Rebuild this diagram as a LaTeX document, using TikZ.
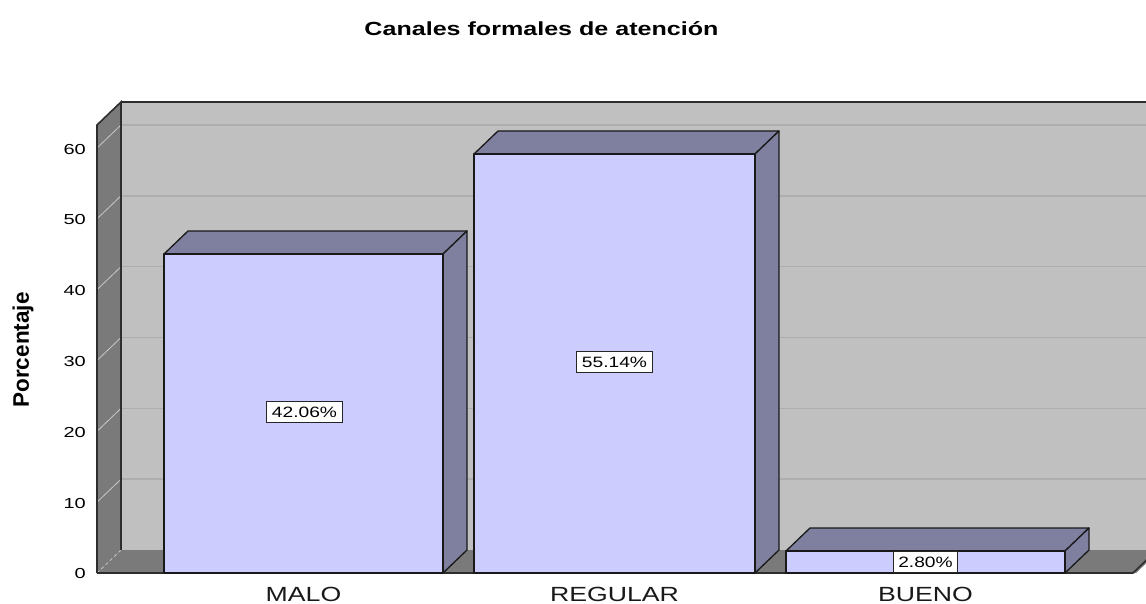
\documentclass[tikz,border=0pt]{standalone}
\usepackage{fontspec}
\usepackage{graphicx}
\setmainfont{Liberation Sans}
\definecolor{wallc}{RGB}{192,192,192}
\definecolor{sidec}{RGB}{122,122,122}
\definecolor{gridc}{RGB}{174,174,174}
\definecolor{diagc}{RGB}{200,200,200}
\definecolor{barfrontc}{RGB}{204,204,255}
\definecolor{barsidec}{RGB}{127,127,160}
\definecolor{edgec}{RGB}{45,45,45}
\newcommand\hs[2]{\scalebox{#1}[1]{#2}}
\tikzset{
  backwall/.style={fill=wallc},
  sidewall/.style={fill=sidec},
  gridline/.style={draw=gridc, line width=1.6pt},
  diagline/.style={draw=diagc, line width=0.8pt},
  walledge/.style={draw=edgec, line width=1.6pt},
  barfront/.style={fill=barfrontc, draw=black!90, line width=1.3pt, line join=round},
  barside/.style={fill=barsidec, draw=black!90, line width=1.3pt, line join=round},
  ticklabel/.style={anchor=east, inner sep=0pt, font=\fontsize{14.5}{16}\selectfont, text=black},
  catlabel/.style={inner sep=0pt, font=\fontsize{20.5}{22}\selectfont, text=black!90},
  valbox/.style={fill=white, draw=black!85, line width=1pt, inner xsep=5pt, inner ysep=0pt, minimum height=21pt, font=\fontsize{15}{16}\selectfont, text=black},
  titlelabel/.style={inner sep=0pt, font=\bfseries\fontsize{19}{21}\selectfont},
  axislabel/.style={inner sep=0pt, rotate=90, font=\bfseries\fontsize{22.5}{24}\selectfont}
}
\begin{document}
\begin{tikzpicture}[x=1pt,y=-1pt]
\useasboundingbox (0,0) rectangle (1146,604);
\begin{scope}
\clip (0,0) rectangle (1146,604);
% back wall
\fill[backwall] (121,102) rectangle (1160,550);
% gridlines
\foreach \v in {10,20,30,40,50,60}{
  \draw[gridline] (121,{550-\v*7.083}) -- (1160,{550-\v*7.083});
}
% side wall
\fill[sidewall] (97,125) -- (121,102) -- (121,550) -- (97,573) -- cycle;
\foreach \v in {10,20,30,40,50,60}{
  \draw[diagline] (97,{573-\v*7.083}) -- (121,{550-\v*7.083});
}
% floor
\fill[sidewall] (97,573) -- (121,550) -- (1160,550) -- (1136,573) -- cycle;
\draw[diagline, dashed] (97,573) -- (121,550);
% edges
\draw[walledge] (121,102) -- (1160,102);
\draw[walledge] (97,573) -- (97,125) -- (121,102) -- (121,550);
\draw[walledge] (97,573) -- (1133,573) -- (1157,550);
\end{scope}
% bars
% MALO
\draw[barside] (164,254) -- (188,231) -- (467,231) -- (443,254) -- cycle;
\draw[barside] (443,254) -- (467,231) -- (467,550) -- (443,573) -- cycle;
\draw[barfront] (164,254) rectangle (443,573);
% REGULAR
\draw[barside] (474,154) -- (498,131) -- (779,131) -- (755,154) -- cycle;
\draw[barside] (755,154) -- (779,131) -- (779,550) -- (755,573) -- cycle;
\draw[barfront] (474,154) rectangle (755,573);
% BUENO
\draw[barside] (786,551) -- (810,528) -- (1089,528) -- (1065,551) -- cycle;
\draw[barside] (1065,551) -- (1089,528) -- (1089,550) -- (1065,573) -- cycle;
\draw[barfront] (786,551) rectangle (1065,573);
% value labels
\node[valbox] (v1) at (304.5,412) {\hs{1.28}{42.06\%}};
\node[valbox] (v2) at (614.5,362) {\hs{1.28}{55.14\%}};
\node[valbox] (v3) at (925.5,562) {\hs{1.28}{2.80\%}};
% tick labels
\foreach \v in {0,10,20,30,40,50,60}{
  \node[ticklabel] (t\v) at (86,{574-\v*7.083}) {\hs{1.38}{\v}};
}
% category labels
\node[catlabel] (c1) at (303.5,594) {\hs{1.3}{MALO}};
\node[catlabel] (c2) at (614.5,594) {\hs{1.3}{REGULAR}};
\node[catlabel] (c3) at (925.5,594) {\hs{1.3}{BUENO}};
% title and axis label
\node[titlelabel] (title) at (541.5,29) {\hs{1.32}{Canales formales de atención}};
\node[axislabel] (ylab) at (23,350) {Porcentaje};
\end{tikzpicture}
\end{document}
